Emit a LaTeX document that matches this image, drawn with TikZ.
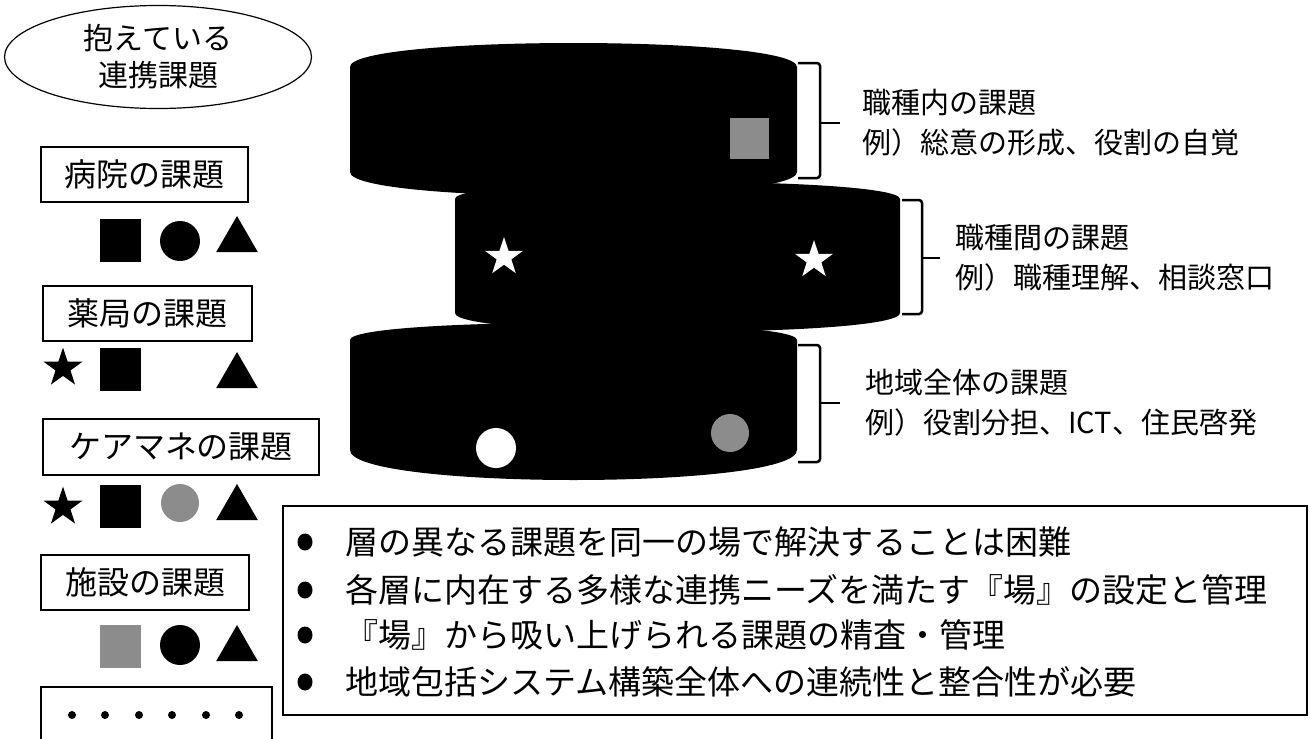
\documentclass[tikz,border=0pt]{standalone}
\usepackage{fontspec}
\setmainfont{Noto Sans CJK JP}
\usetikzlibrary{shapes.geometric,positioning}
\definecolor{speckgray}{RGB}{140,140,140}
\tikzset{
    % legend styles
    issuebubble/.style={
        ellipse, draw, line width=1.2pt, inner sep=0pt,
        minimum width=307pt, minimum height=103pt,
        align=center, font=\fontsize{30}{37}\selectfont
    },
    catbox/.style={
        rectangle, draw, line width=1.2pt, inner sep=0pt,
        minimum height=55pt, font=\fontsize{32}{36}\selectfont
    },
    sqmark/.style={rectangle, fill=black, inner sep=0pt, minimum width=41pt, minimum height=43pt},
    dotmark/.style={circle, fill=black, inner sep=0pt, minimum size=40pt},
    trimark/.style={regular polygon, regular polygon sides=3, fill=black, inner sep=0pt, minimum size=48pt},
    starmark/.style={star, star points=5, star point ratio=2.6, fill=black, inner sep=0pt, minimum size=41pt},
    % layer styles
    layer/.style={fill=black},
    bracket/.style={line width=2.5pt, rounded corners=3pt},
    lvltext/.style={
        anchor=west, align=left, inner sep=0pt,
        font=\fontsize{29}{40}\selectfont
    },
    % summary styles
    pointdot/.style={ellipse, fill=black, inner sep=0pt, minimum width=15pt, minimum height=17pt},
    pointtext/.style={anchor=west, inner sep=0pt, font=\fontsize{33}{36}\selectfont}
}
\begin{document}
\begin{tikzpicture}[x=1pt, y=-1pt]
\useasboundingbox (0,0) rectangle (1310,739);

% Legend
\node[issuebubble] (issues) at (158,57) {抱えている\\連携課題};

\node[catbox, minimum width=207pt] (hospital) at (144.5,174.5) {病院の課題};
\node[sqmark] (h_sq) at (120.5,240) {};
\node[dotmark] (h_dot) at (180,241) {};
\node[trimark] (h_tri) at (237,240) {};

\node[catbox, minimum width=209pt] (pharmacy) at (147.5,313.5) {薬局の課題};
\node[starmark] (p_star) at (63,368) {};
\node[sqmark] (p_sq) at (120.5,369.5) {};
\node[trimark] (p_tri) at (237,376) {};

\node[catbox, minimum width=276pt, minimum height=56pt] (caremgr) at (181,447) {ケアマネの課題};
\node[starmark] (c_star) at (63,507) {};
\node[sqmark] (c_sq) at (120.5,506.5) {};
\node[dotmark, fill=speckgray, minimum size=38pt] (c_dot) at (180,503) {};
\node[trimark] (c_tri) at (237,508) {};

\node[catbox, minimum width=208pt] (facility) at (145,582.5) {施設の課題};
\node[sqmark, fill=speckgray] (f_sq) at (120.5,646) {};
\node[dotmark] (f_dot) at (180,645) {};
\node[trimark] (f_tri) at (237,649) {};

\node[catbox, minimum width=231pt, minimum height=70pt] (others) at (156.5,722) {};
\foreach \x in {72,105,139,172,206,239}
    \fill (\x,715) circle (4pt);

% Layers
\fill[layer] (350,67) .. controls (350,35) and (797,35) .. (797,67)
    -- (797,172) .. controls (797,204) and (350,204) .. (350,172) -- cycle;
\fill[layer] (350,340) .. controls (350,317) and (797,317) .. (797,340)
    -- (797,450) .. controls (797,490) and (350,490) .. (350,450) -- cycle;
\fill[layer] (455,199) .. controls (455,176) and (900,176) .. (900,199)
    -- (900,313) .. controls (900,338) and (455,338) .. (455,313) -- cycle;

\node[sqmark, fill=speckgray, minimum width=39pt, minimum height=41pt] (in_sq) at (749.5,138.5) {};
\node[starmark, fill=white, minimum size=40pt] (bw_star1) at (504,257) {};
\node[starmark, fill=white, minimum size=40pt] (bw_star2) at (814,260) {};
\node[dotmark, fill=white] (area_dot1) at (496,448) {};
\node[dotmark, fill=speckgray, minimum size=38pt] (area_dot2) at (730,433) {};

% Level labels
\node[lvltext] (inner) at (862,123) {職種内の課題\\例）総意の形成、役割の自覚};
\node[lvltext] (between) at (955,258) {職種間の課題\\例）職種理解、相談窓口};
\node[lvltext] (area) at (865,403) {地域全体の課題\\例）役割分担、ICT、住民啓発};

\draw[bracket] (798,63) -- (820,63) -- (820,178) -- (798,178);
\draw[bracket] (820,123) -- ([xshift=-22pt]inner.west);
\draw[bracket] (902,200) -- (922,200) -- (922,314) -- (902,314);
\draw[bracket] (922,258) -- ([xshift=-15pt]between.west);
\draw[bracket] (798,345) -- (820,345) -- (820,462) -- (798,462);
\draw[bracket] (820,403) -- ([xshift=-25pt]area.west);

% Summary
\node[draw, line width=1.5pt, inner sep=0pt, minimum width=1024pt, minimum height=209pt] (summary) at (795,610.5) {};
\node[pointdot] (b1) at (305,542) {};
\node[pointdot] (b2) at (305,590) {};
\node[pointdot] (b3) at (305,635) {};
\node[pointdot] (b4) at (305,682) {};
\node[pointtext] (t1) at (345,542) {層の異なる課題を同一の場で解決することは困難};
\node[pointtext] (t2) at (345,590) {各層に内在する多様な連携ニーズを満たす『場』の設定と管理};
\node[pointtext] (t3) at (345,635) {『場』から吸い上げられる課題の精査・管理};
\node[pointtext] (t4) at (345,682) {地域包括システム構築全体への連続性と整合性が必要};

\end{tikzpicture}
\end{document}
